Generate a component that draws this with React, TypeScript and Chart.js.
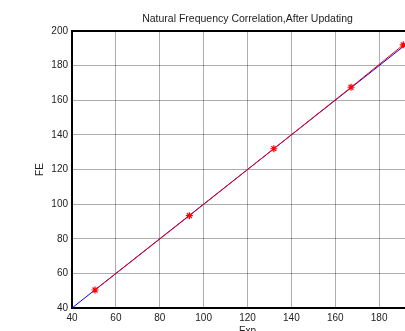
import React, { useEffect, useRef } from "react";
import { Chart, registerables } from "chart.js";

Chart.register(...registerables);

// Measured natural frequencies (experiment vs. finite element model)
const expFreq = [50.5, 93.5, 132, 167.2, 191];
const feFreq = [50.4, 93.3, 132, 167.5, 192];

// Ideal correlation reference line
const refLine = [40, 200];

const axisMin = 40;
const axisMax = 200;
const axisStep = 20;

const titleText = "Natural Frequency Correlation,After Updating";
const xTitle = "Exp";
const yTitle = "FE";

const FONT = "'Liberation Sans', Arial, Helvetica, sans-serif";

const framePlugin = {
  id: "frame",
  afterDraw(chart: any) {
    const { ctx, chartArea } = chart;
    const { left, right, top, bottom } = chartArea;
    ctx.save();
    ctx.strokeStyle = "#000";
    ctx.lineWidth = 2;
    ctx.beginPath();
    ctx.moveTo(left, top);
    ctx.lineTo(right, top);
    ctx.lineTo(right, bottom);
    ctx.stroke();
    ctx.fillStyle = "#222";
    ctx.font = `10.5px ${FONT}`;
    ctx.textAlign = "center";
    ctx.textBaseline = "middle";
    ctx.fillText(titleText, (left + right) / 2, 19);
    ctx.restore();
  },
};

export default function App() {
  const canvasRef = useRef<HTMLCanvasElement | null>(null);

  useEffect(() => {
    if (!canvasRef.current) return;
    const tickFont = { family: FONT, size: 10 };
    const chart = new Chart(canvasRef.current, {
      type: "line",
      data: {
        datasets: [
          {
            label: "FE vs Exp",
            data: expFreq.map((x, i) => ({ x, y: feFreq[i] })),
            borderColor: "#ff0000",
            backgroundColor: "#ff0000",
            borderWidth: 1,
            pointStyle: "star",
            pointRadius: 3.5,
            pointBorderWidth: 1.2,
            pointBorderColor: "#ff0000",
            tension: 0,
          },
          {
            label: "y = x",
            data: refLine.map((v) => ({ x: v, y: v })),
            borderColor: "#0000ff",
            borderWidth: 1,
            pointRadius: 0,
            tension: 0,
          },
        ],
      },
      options: {
        responsive: false,
        animation: false,
        layout: { padding: { left: 0, right: 72, top: 31, bottom: 0 } },
        plugins: {
          legend: { display: false },
          tooltip: { enabled: false },
          title: { display: false },
        },
        scales: {
          x: {
            type: "linear",
            min: axisMin,
            max: axisMax,
            afterFit: (s: any) => {
              s.height = 37;
            },
            ticks: {
              stepSize: axisStep,
              padding: 4,
              maxRotation: 0,
              color: "#222",
              font: tickFont,
            },
            grid: { color: "rgba(0,0,0,0.32)", lineWidth: 1, drawTicks: false },
            border: { display: true, color: "#000", width: 2 },
            title: {
              display: true,
              text: xTitle,
              color: "#222",
              font: tickFont,
              padding: { top: 0, bottom: 8 },
            },
          },
          y: {
            type: "linear",
            min: axisMin,
            max: axisMax,
            afterFit: (s: any) => {
              s.width = 72;
            },
            ticks: {
              stepSize: axisStep,
              padding: 4,
              color: "#222",
              font: tickFont,
            },
            grid: { color: "rgba(0,0,0,0.32)", lineWidth: 1, drawTicks: false },
            border: { display: true, color: "#000", width: 2 },
            title: {
              display: true,
              text: yTitle,
              color: "#222",
              font: tickFont,
              padding: { top: 34, bottom: 0 },
            },
          },
        },
      },
      plugins: [framePlugin],
    });
    return () => chart.destroy();
  }, []);

  return (
    <div
      style={{
        position: "fixed",
        left: 0,
        top: 0,
        width: 405,
        height: 331,
        overflow: "hidden",
        background: "#fff",
      }}
    >
      <canvas ref={canvasRef} width={495} height={345} style={{ display: "block" }} />
    </div>
  );
}
